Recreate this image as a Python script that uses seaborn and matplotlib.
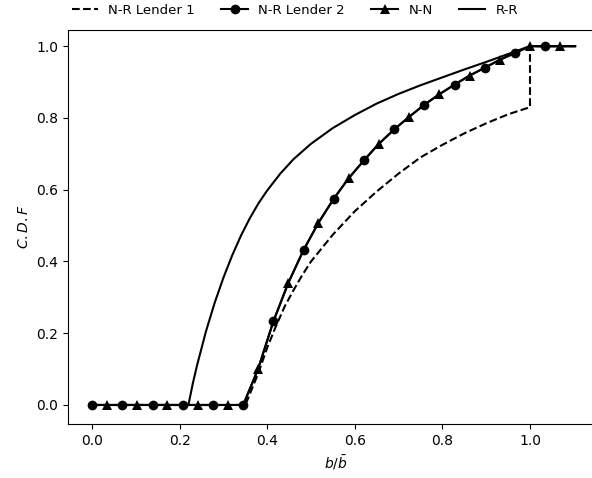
import matplotlib
matplotlib.use("Agg")
import matplotlib.pyplot as plt
import seaborn as sns

# common grid for the marked curves (step 1/29)
x_grid = [0.000, 0.034, 0.069, 0.103, 0.138, 0.172, 0.207, 0.241, 0.276, 0.310,
          0.345, 0.379, 0.414, 0.448, 0.483, 0.517, 0.552, 0.586, 0.621, 0.655,
          0.690, 0.724, 0.759, 0.793, 0.828, 0.862, 0.897, 0.931, 0.966, 1.000,
          1.034, 1.069, 1.103]

nr_lender2 = [0, 0, 0, 0, 0, 0, 0, 0, 0, 0,
              0, 0.100, 0.233, 0.340, 0.432, 0.508, 0.575, 0.632, 0.682, 0.728,
              0.768, 0.803, 0.837, 0.866, 0.893, 0.918, 0.940, 0.962, 0.981, 1.0,
              1.0, 1.0, 1.0]

nn = [0, 0, 0, 0, 0, 0, 0, 0, 0, 0,
      0, 0.100, 0.233, 0.340, 0.432, 0.508, 0.575, 0.632, 0.682, 0.728,
      0.768, 0.803, 0.837, 0.866, 0.893, 0.918, 0.940, 0.962, 0.981, 1.0,
      1.0, 1.0, 1.0]

# N-R lender 1 (dashed), jumps to 1 at b = b_bar
x_lender1 = [0.0, 0.35, 0.365, 0.38, 0.40, 0.42, 0.44, 0.46, 0.48, 0.50,
             0.55, 0.60, 0.65, 0.70, 0.75, 0.80, 0.85, 0.90, 0.95, 1.0,
             1.0, 1.103]
nr_lender1 = [0.0, 0.0, 0.045, 0.09, 0.16, 0.22, 0.275, 0.32, 0.362, 0.40,
              0.475, 0.54, 0.595, 0.645, 0.69, 0.725, 0.757, 0.785, 0.81, 0.83,
              1.0, 1.0]

# R-R
x_rr = [0.0, 0.22, 0.23, 0.24, 0.26, 0.28, 0.30, 0.32, 0.34, 0.36,
        0.38, 0.40, 0.43, 0.46, 0.50, 0.55, 0.60, 0.65, 0.70, 0.75,
        0.80, 0.85, 0.90, 0.95, 1.0, 1.103]
rr = [0.0, 0.0, 0.06, 0.112, 0.205, 0.285, 0.355, 0.417, 0.472, 0.52,
      0.562, 0.598, 0.645, 0.685, 0.728, 0.772, 0.808, 0.84, 0.867, 0.891,
      0.913, 0.935, 0.956, 0.978, 1.0, 1.0]

fig = plt.figure(figsize=(5.92, 4.78), dpi=100)
ax = fig.add_axes([68 / 592, 54 / 478, 536 / 592, 394 / 478])

sns.lineplot(x=x_lender1, y=nr_lender1, ax=ax, color="black", linestyle="--",
             estimator=None, sort=False, label="N-R Lender 1")
sns.lineplot(x=x_grid, y=nr_lender2, ax=ax, color="black", marker="o",
             markevery=list(range(0, 31, 2)), markersize=7, markeredgewidth=0,
             estimator=None, sort=False, label="N-R Lender 2")
sns.lineplot(x=x_grid, y=nn, ax=ax, color="black", marker="^",
             markevery=list(range(1, 32, 2)), markersize=7, markeredgewidth=0,
             estimator=None, sort=False, label="N-N")
sns.lineplot(x=x_rr, y=rr, ax=ax, color="black",
             estimator=None, sort=False, label="R-R")

ax.set_xlim(-0.055, 1.169)
ax.set_ylim(-0.053, 1.045)
ax.set_xlabel(r"$b/\bar{b}$")
ax.set_ylabel(r"$C.D.F$")

ax.legend(loc="center", bbox_to_anchor=(295 / 592, 1 - 10 / 478),
          bbox_transform=fig.transFigure, ncol=4, frameon=False, fontsize=9.5)

fig.savefig("out.png", dpi=100)
